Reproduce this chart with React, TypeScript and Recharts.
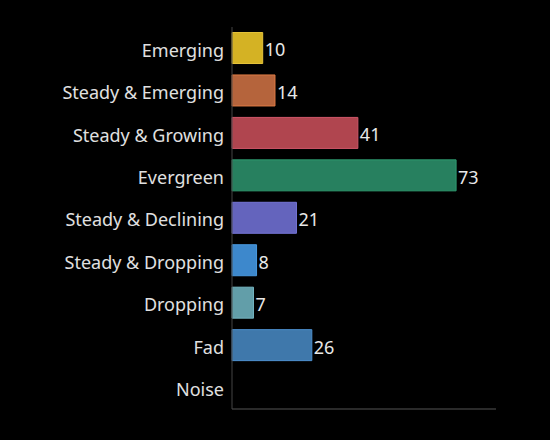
import React from "react";
import { BarChart, Bar, XAxis, YAxis, Cell, LabelList } from "recharts";

document.body.style.margin = "0";
document.body.style.background = "#000";

const categories = [
  "Emerging",
  "Steady & Emerging",
  "Steady & Growing",
  "Evergreen",
  "Steady & Declining",
  "Steady & Dropping",
  "Dropping",
  "Fad",
  "Noise",
];
const counts = [10, 14, 41, 73, 21, 8, 7, 26, 0];
const fills = ["#d4b224", "#b5643c", "#b0454f", "#27805f", "#6464bd", "#3d88cc", "#629ea9", "#3f78ab", "#888888"];
const borders = ["#e6c43a", "#e07b44", "#d0566a", "#2f9a70", "#7474d6", "#4a9ae0", "#74b4c0", "#4d8fce", "#9999aa"];

const data = categories.map((name, i) => ({ name, count: counts[i] }));

const FONT = "'Noto Sans', sans-serif";

export default function App() {
  return (
    <div style={{ width: 550, height: 440, background: "#000" }}>
      <BarChart
        width={550}
        height={440}
        data={data}
        layout="vertical"
        margin={{ top: 27, right: 54, bottom: 29, left: 0 }}
        barCategoryGap="13%"
      >
        <XAxis
          type="number"
          domain={[0, 86]}
          tick={false}
          tickLine={false}
          height={2}
          axisLine={{ stroke: "#555" }}
        />
        <YAxis
          type="category"
          dataKey="name"
          width={232}
          tickLine={false}
          axisLine={{ stroke: "#444" }}
          tickMargin={2}
          tick={{ fill: "#e0e0e0", fontSize: 18, fontFamily: FONT, dy: 2 }}
        />
        <Bar dataKey="count" isAnimationActive={false}>
          {data.map((d, i) => (
            <Cell key={d.name} fill={fills[i]} stroke={borders[i]} strokeWidth={1} />
          ))}
          <LabelList
            dataKey="count"
            position="right"
            offset={2}
            formatter={(v: any) => (v === 0 ? "" : v)}
            style={{ fill: "#e8e8e8", fontSize: 18, fontFamily: FONT }}
            dy={2}
          />
        </Bar>
      </BarChart>
    </div>
  );
}
